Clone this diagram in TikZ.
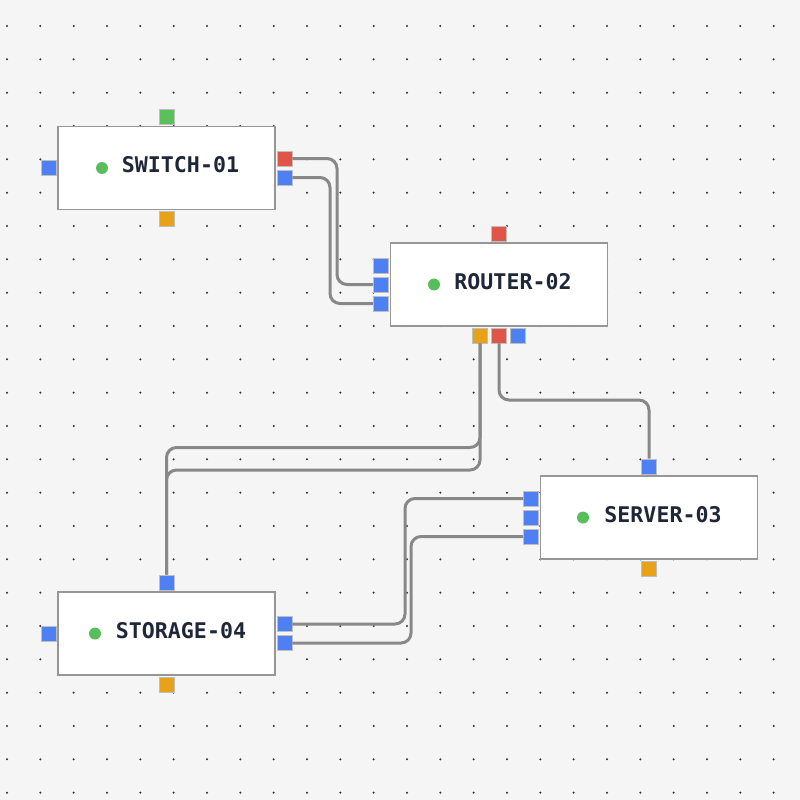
\documentclass[tikz,border=0pt]{standalone}
\usepackage{fontspec}
\newfontfamily\labelfont{DejaVu Sans Mono}
\definecolor{bgc}{RGB}{245,245,245}
\definecolor{gridc}{RGB}{45,45,45}
\definecolor{boxline}{RGB}{150,150,150}
\definecolor{wirec}{RGB}{136,136,136}
\definecolor{pblue}{RGB}{78,128,244}
\definecolor{pred}{RGB}{224,85,70}
\definecolor{pgreen}{RGB}{90,192,90}
\definecolor{porange}{RGB}{232,162,26}
\definecolor{okc}{RGB}{88,190,92}
\definecolor{txtc}{RGB}{30,38,56}
\begin{document}
\begin{tikzpicture}[x=1pt,y=-1pt,
  devbox/.style={draw=boxline,line width=1.5pt,fill=white,minimum width=217pt,minimum height=83pt,inner sep=0pt},
  port/.style={draw=black!25,line width=0.6pt,minimum size=15pt,inner sep=0pt},
  devlabel/.style={anchor=base,inner sep=0pt,text=txtc,font=\labelfont\bfseries\fontsize{21.6}{24}\selectfont},
  okdot/.style={circle,fill=okc,minimum size=12pt,inner sep=0pt},
  wire/.style={draw=wirec,line width=3pt,rounded corners=10pt}]
\useasboundingbox (0,0) rectangle (800,800);
\fill[bgc] (0,0) rectangle (800,800);
% dot grid
\foreach \i in {0,...,23}{
  \foreach \j in {0,...,23}{
    \fill[gridc] ({7+33.333*\i},{26+33.333*\j}) circle (1.1pt);
  }
}
% devices
\node[devbox] (sw) at (166.5,168) {};
\node[devbox] (rt) at (499,284.5) {};
\node[devbox] (sv) at (649,517.5) {};
\node[devbox] (st) at (166.5,633.5) {};
% labels
\node[devlabel] (swT) at ([xshift=14pt,yshift=-4.7pt]sw.center) {SWITCH-01};
\node[devlabel] (rtT) at ([xshift=14pt,yshift=-4.7pt]rt.center) {ROUTER-02};
\node[devlabel] (svT) at ([xshift=14pt,yshift=-4.7pt]sv.center) {SERVER-03};
\node[devlabel] (stT) at ([xshift=14.5pt,yshift=-4.7pt]st.center) {STORAGE-04};
\node[okdot] (swD) at ([xshift=-64.5pt]sw.center) {};
\node[okdot] (rtD) at ([xshift=-65pt]rt.center) {};
\node[okdot] (svD) at ([xshift=-66pt]sv.center) {};
\node[okdot] (stD) at ([xshift=-71.5pt]st.center) {};
% ports: switch
\node[port,fill=pgreen,anchor=south] (swP1) at ([yshift=1pt]sw.north) {};
\node[port,fill=porange,anchor=north] (swP2) at ([yshift=-1pt]sw.south) {};
\node[port,fill=pblue,anchor=east] (swP3) at ([xshift=-1pt]sw.west) {};
\node[port,fill=pred,anchor=west] (swR1) at ([xshift=1pt,yshift=9.5pt]sw.east) {};
\node[port,fill=pblue,anchor=west] (swR2) at ([xshift=1pt,yshift=-9.5pt]sw.east) {};
% ports: router
\node[port,fill=pred,anchor=south] (rtP1) at ([yshift=1pt]rt.north) {};
\node[port,fill=pblue,anchor=east] (rtL1) at ([xshift=-1pt,yshift=19pt]rt.west) {};
\node[port,fill=pblue,anchor=east] (rtL2) at ([xshift=-1pt]rt.west) {};
\node[port,fill=pblue,anchor=east] (rtL3) at ([xshift=-1pt,yshift=-19pt]rt.west) {};
\node[port,fill=porange,anchor=north] (rtB1) at ([xshift=-19pt,yshift=-1pt]rt.south) {};
\node[port,fill=pred,anchor=north] (rtB2) at ([yshift=-1pt]rt.south) {};
\node[port,fill=pblue,anchor=north] (rtB3) at ([xshift=19pt,yshift=-1pt]rt.south) {};
% ports: server
\node[port,fill=pblue,anchor=south] (svP1) at ([yshift=1pt]sv.north) {};
\node[port,fill=porange,anchor=north] (svP2) at ([yshift=-1pt]sv.south) {};
\node[port,fill=pblue,anchor=east] (svL1) at ([xshift=-1pt,yshift=19pt]sv.west) {};
\node[port,fill=pblue,anchor=east] (svL2) at ([xshift=-1pt]sv.west) {};
\node[port,fill=pblue,anchor=east] (svL3) at ([xshift=-1pt,yshift=-19pt]sv.west) {};
% ports: storage
\node[port,fill=pblue,anchor=south] (stP1) at ([yshift=1pt]st.north) {};
\node[port,fill=porange,anchor=north] (stP2) at ([yshift=-1pt]st.south) {};
\node[port,fill=pblue,anchor=east] (stP3) at ([xshift=-1pt]st.west) {};
\node[port,fill=pblue,anchor=west] (stR1) at ([xshift=1pt,yshift=9.5pt]st.east) {};
\node[port,fill=pblue,anchor=west] (stR2) at ([xshift=1pt,yshift=-9.5pt]st.east) {};
% bend guides
\coordinate (v1) at (337,0);
\coordinate (v2) at (330,0);
\coordinate (h1) at (0,447.5);
\coordinate (h2) at (0,470);
\coordinate (h3) at (0,400);
\coordinate (v3) at (405,0);
\coordinate (v4) at (411,0);
% wires
\begin{scope}[on background layer/.style={}]
\draw[wire] (swR1.east) -- (swR1.east -| v1) -- (v1 |- rtL2.west) -- (rtL2.west);
\draw[wire] (swR2.east) -- (swR2.east -| v2) -- (v2 |- rtL3.west) -- (rtL3.west);
\draw[wire] (rtB1.south) -- (rtB1.south |- h1) -- (stP1.north |- h1) -- (stP1.north);
\draw[wire] (rtB1.south) -- (rtB1.south |- h2) -- (stP1.north |- h2) -- (stP1.north);
\draw[wire] (rtB2.south) -- (rtB2.south |- h3) -- (svP1.north |- h3) -- (svP1.north);
\draw[wire] (stR1.east) -- (stR1.east -| v3) -- (v3 |- svL1.west) -- (svL1.west);
\draw[wire] (stR2.east) -- (stR2.east -| v4) -- (v4 |- svL3.west) -- (svL3.west);
\end{scope}
\end{tikzpicture}
\end{document}
